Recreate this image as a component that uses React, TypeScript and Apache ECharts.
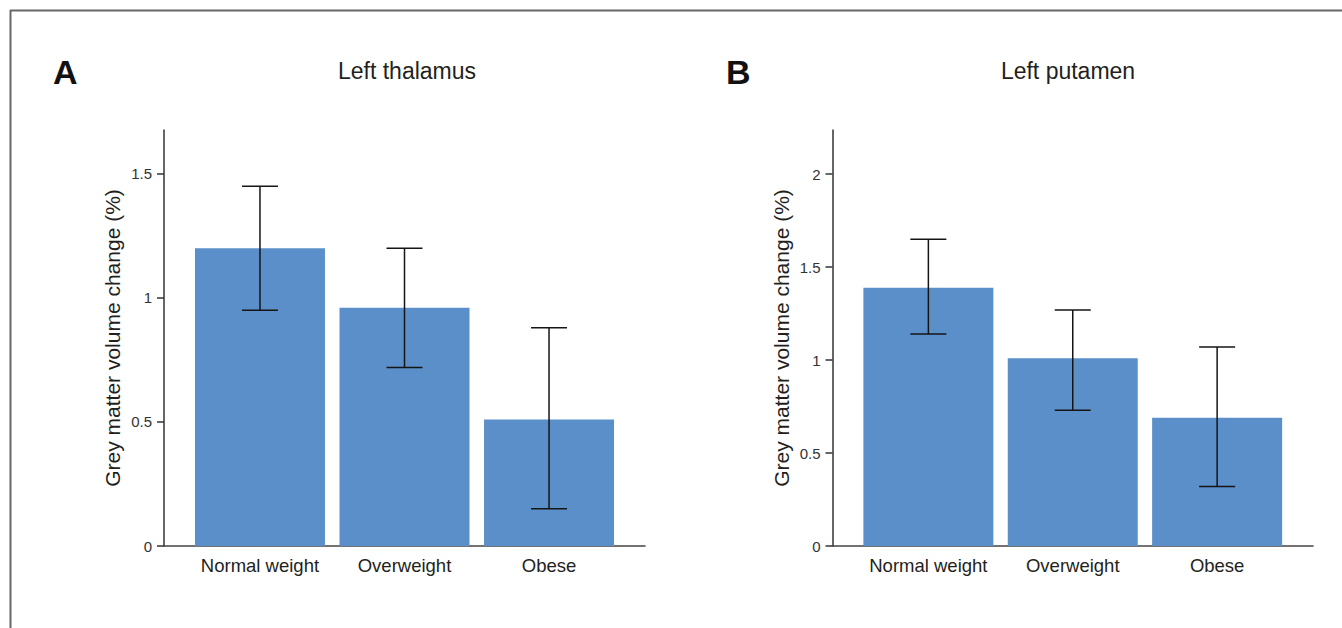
import React, { useEffect, useRef } from "react";
import * as echarts from "echarts";

const categories = ["Normal weight", "Overweight", "Obese"];
const categoryPositions = [1, 2, 3];

const thalamusMean = [1.2, 0.96, 0.51];
const thalamusLow = [0.95, 0.72, 0.15];
const thalamusHigh = [1.45, 1.2, 0.88];
const thalamusTicks = [0, 0.5, 1, 1.5];

const putamenMean = [1.39, 1.01, 0.69];
const putamenLow = [1.14, 0.73, 0.32];
const putamenHigh = [1.65, 1.27, 1.07];
const putamenTicks = [0, 0.5, 1, 1.5, 2];

const panelTitles = ["Left thalamus", "Left putamen"];
const panelLetters = ["A", "B"];
const yAxisName = "Grey matter volume change (%)";

const FONT = "'Liberation Sans', Arial, Helvetica, sans-serif";
const BAR_COLOR = "#5b8fca";
const TEXT = "#231f20";

function errorRender(params: any, api: any) {
  const x = api.value(0);
  const lo = api.value(1);
  const hi = api.value(2);
  const pLo = api.coord([x, lo]);
  const pHi = api.coord([x, hi]);
  const hw = 18;
  const style = { stroke: "#151515", lineWidth: 1.5 };
  return {
    type: "group",
    children: [
      { type: "line", shape: { x1: pLo[0], y1: pLo[1], x2: pHi[0], y2: pHi[1] }, style },
      { type: "line", shape: { x1: pHi[0] - hw, y1: pHi[1], x2: pHi[0] + hw, y2: pHi[1] }, style },
      { type: "line", shape: { x1: pLo[0] - hw, y1: pLo[1], x2: pLo[0] + hw, y2: pLo[1] }, style },
    ],
  };
}

function xAxisFor(gridIndex: number) {
  return {
    type: "value",
    gridIndex,
    min: 0.336,
    max: 3.664,
    splitLine: { show: false },
    axisTick: { show: false },
    axisLine: { show: true, onZero: false, lineStyle: { color: "#444", width: 1.6 } },
    axisLabel: {
      customValues: categoryPositions,
      formatter: (v: number) => categories[Math.round(v) - 1] || "",
      fontFamily: FONT,
      fontSize: 18.5,
      color: TEXT,
      margin: 10,
    },
  };
}

function yAxisFor(gridIndex: number, max: number, ticks: number[]) {
  return {
    type: "value",
    gridIndex,
    min: 0,
    max,
    name: yAxisName,
    nameLocation: "middle",
    nameGap: 41,
    nameTextStyle: { fontFamily: FONT, fontSize: 21, color: TEXT },
    splitLine: { show: false },
    axisLine: { show: true, onZero: false, lineStyle: { color: "#333", width: 1.5 } },
    axisTick: { show: true, length: 7, customValues: ticks, lineStyle: { color: "#333", width: 1.5 } },
    axisLabel: {
      customValues: ticks,
      formatter: (v: number) => String(v),
      fontFamily: FONT,
      fontSize: 15,
      color: "#333",
      margin: 12,
    },
  };
}

export default function App() {
  const ref = useRef<HTMLDivElement>(null);
  useEffect(() => {
    if (!ref.current) return;
    const chart = echarts.init(ref.current, null, { renderer: "svg" });
    const option: any = {
      animation: false,
      backgroundColor: "#ffffff",
      textStyle: { fontFamily: FONT },
      grid: [
        { left: 164, top: 130, width: 481, height: 416 },
        { left: 832.5, top: 130, width: 480.5, height: 416 },
      ],
      xAxis: [xAxisFor(0), xAxisFor(1)],
      yAxis: [yAxisFor(0, 1.677, thalamusTicks), yAxisFor(1, 2.238, putamenTicks)],
      series: [
        {
          type: "bar",
          xAxisIndex: 0,
          yAxisIndex: 0,
          barWidth: 130,
          itemStyle: { color: BAR_COLOR },
          data: categoryPositions.map((p, i) => [p, thalamusMean[i]]),
        },
        {
          type: "custom",
          xAxisIndex: 0,
          yAxisIndex: 0,
          z: 5,
          renderItem: errorRender,
          encode: { x: 0, y: [1, 2] },
          data: categoryPositions.map((p, i) => [p, thalamusLow[i], thalamusHigh[i]]),
        },
        {
          type: "bar",
          xAxisIndex: 1,
          yAxisIndex: 1,
          barWidth: 130,
          itemStyle: { color: BAR_COLOR },
          data: categoryPositions.map((p, i) => [p, putamenMean[i]]),
        },
        {
          type: "custom",
          xAxisIndex: 1,
          yAxisIndex: 1,
          z: 5,
          renderItem: errorRender,
          encode: { x: 0, y: [1, 2] },
          data: categoryPositions.map((p, i) => [p, putamenLow[i], putamenHigh[i]]),
        },
      ],
      graphic: [
        { type: "line", shape: { x1: 10, y1: 10.5, x2: 1342, y2: 10.5 }, style: { stroke: "#666", lineWidth: 2 } },
        { type: "line", shape: { x1: 10.5, y1: 10, x2: 10.5, y2: 628 }, style: { stroke: "#666", lineWidth: 2 } },
        {
          type: "text", x: 53, y: 72,
          style: { text: panelLetters[0], font: `bold 34px ${FONT}`, fill: "#111", textAlign: "left", textVerticalAlign: "middle" },
        },
        {
          type: "text", x: 726, y: 72,
          style: { text: panelLetters[1], font: `bold 34px ${FONT}`, fill: "#111", textAlign: "left", textVerticalAlign: "middle" },
        },
        {
          type: "text", x: 407, y: 71,
          style: { text: panelTitles[0], font: `23px ${FONT}`, fill: TEXT, textAlign: "center", textVerticalAlign: "middle" },
        },
        {
          type: "text", x: 1068, y: 71,
          style: { text: panelTitles[1], font: `23px ${FONT}`, fill: TEXT, textAlign: "center", textVerticalAlign: "middle" },
        },
      ],
    };
    chart.setOption(option);
    return () => chart.dispose();
  }, []);
  return (
    <div
      ref={ref}
      style={{ position: "fixed", left: 0, top: 0, width: 1342, height: 628, background: "#fff" }}
    />
  );
}
